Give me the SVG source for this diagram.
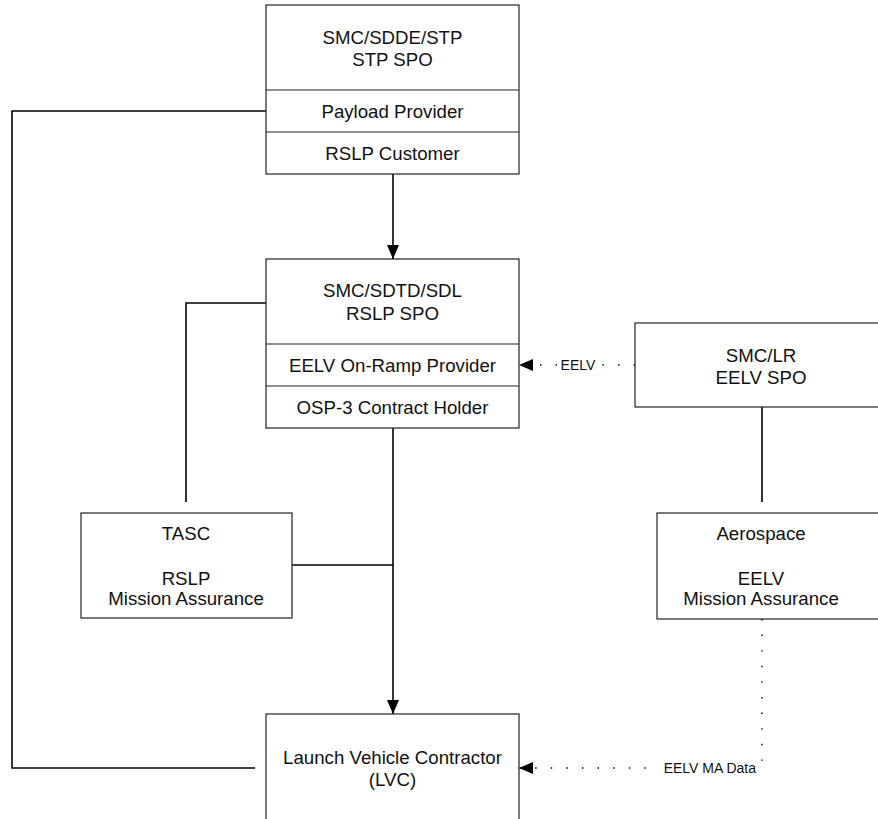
<svg xmlns="http://www.w3.org/2000/svg" width="878" height="819" viewBox="0 0 878 819">
<style>
.box{fill:#fff;stroke:#222;stroke-width:1.2}
.div{stroke:#222;stroke-width:1.2}
.t{font-family:"Liberation Sans",Arial,sans-serif;font-size:18.67px;fill:#111;text-anchor:middle}
.s{font-family:"Liberation Sans",Arial,sans-serif;font-size:14px;fill:#111}
.c{fill:none;stroke:#000;stroke-width:1.6}
.d{fill:none;stroke:#000;stroke-width:1.4;stroke-dasharray:1.4 14.2}
</style>
<defs>
<marker id="ah" viewBox="0 0 14 12" refX="14" refY="6" markerWidth="14" markerHeight="12" markerUnits="userSpaceOnUse" orient="auto">
<path d="M0,0 L14,6 L0,12 Z" fill="#000"/>
</marker>
</defs>
<g id="connectors">
<polyline class="c" points="266,111 12,111 12,768 255,768"/>
<line class="c" x1="393" y1="174" x2="393" y2="259" marker-end="url(#ah)"/>
<polyline class="c" points="266,303 186,303 186,502"/>
<line class="c" x1="393" y1="428" x2="393" y2="714" marker-end="url(#ah)"/>
<line class="c" x1="292" y1="565" x2="393" y2="565"/>
<line class="c" x1="762" y1="407" x2="762" y2="502"/>
<line class="d" x1="635" y1="365" x2="519" y2="365" marker-end="url(#ah)"/>
<rect x="558" y="357" width="40" height="16" fill="#fff"/>
<text class="s" x="578" y="370" text-anchor="middle">EELV</text>
<polyline class="d" points="762,619 762,768 519,768" marker-end="url(#ah)"/>
<rect x="660" y="759" width="98" height="17" fill="#fff"/>
<text class="s" x="756" y="773" text-anchor="end">EELV MA Data</text>
</g>
<g id="stp-spo">
<rect class="box" x="266" y="5" width="253" height="169"/>
<line class="div" x1="266" y1="90" x2="519" y2="90"/>
<line class="div" x1="266" y1="132" x2="519" y2="132"/>
<text class="t" x="392.5" y="44">SMC/SDDE/STP</text>
<text class="t" x="392.5" y="66">STP SPO</text>
<text class="t" x="392.5" y="118">Payload Provider</text>
<text class="t" x="392.5" y="160">RSLP Customer</text>
</g>
<g id="rslp-spo">
<rect class="box" x="266" y="259" width="253" height="169"/>
<line class="div" x1="266" y1="344" x2="519" y2="344"/>
<line class="div" x1="266" y1="386" x2="519" y2="386"/>
<text class="t" x="392.5" y="297">SMC/SDTD/SDL</text>
<text class="t" x="392.5" y="320">RSLP SPO</text>
<text class="t" x="392.5" y="372">EELV On-Ramp Provider</text>
<text class="t" x="392.5" y="414">OSP-3 Contract Holder</text>
</g>
<g id="eelv-spo">
<rect class="box" x="635" y="323" width="250" height="84"/>
<text class="t" x="761" y="362">SMC/LR</text>
<text class="t" x="761" y="384">EELV SPO</text>
</g>
<g id="tasc">
<rect class="box" x="81" y="513" width="211" height="105"/>
<text class="t" x="186" y="540">TASC</text>
<text class="t" x="186" y="585">RSLP</text>
<text class="t" x="186" y="605">Mission Assurance</text>
</g>
<g id="aerospace">
<rect class="box" x="657" y="513" width="228" height="106"/>
<text class="t" x="761" y="540">Aerospace</text>
<text class="t" x="761" y="585">EELV</text>
<text class="t" x="761" y="605">Mission Assurance</text>
</g>
<g id="lvc">
<rect class="box" x="266" y="714" width="253" height="120"/>
<text class="t" x="392.5" y="764">Launch Vehicle Contractor</text>
<text class="t" x="392.5" y="786">(LVC)</text>
</g>
</svg>
